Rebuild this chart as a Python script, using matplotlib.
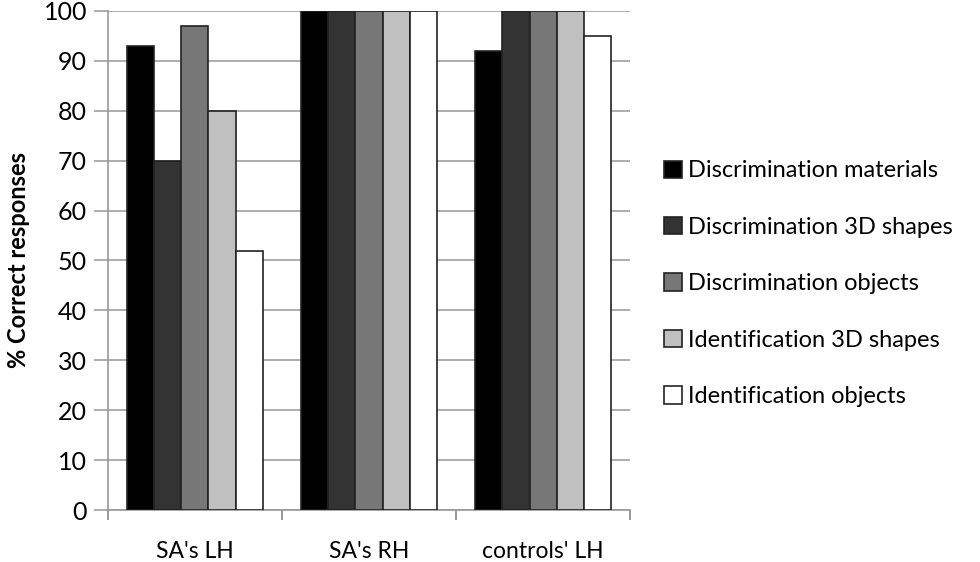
import matplotlib
matplotlib.use('Agg')

import numpy as np
import matplotlib.pyplot as plt
from matplotlib.patches import Patch

plt.rcParams['font.family'] = ['Lato', 'DejaVu Sans']

# Data
groups = ["SA's LH", "SA's RH", "controls' LH"]
series = ['Discrimination materials', 'Discrimination 3D shapes',
          'Discrimination objects', 'Identification 3D shapes',
          'Identification objects']
disc_materials = [93, 100, 92]
disc_shapes = [70, 100, 100]
disc_objects = [97, 100, 100]
ident_shapes = [80, 100, 100]
ident_objects = [52, 100, 95]
values = [disc_materials, disc_shapes, disc_objects, ident_shapes, ident_objects]
colors = ['#000000', '#333333', '#777777', '#c0c0c0', '#ffffff']

fig = plt.figure(figsize=(9.8, 5.62), dpi=100)
ax = fig.add_axes([0.110, 0.0925, 0.533, 0.888])

x = np.arange(len(groups))
bw = 0.156
for i, (vals, c) in enumerate(zip(values, colors)):
    ax.bar(x + (i - 2) * bw, vals, bw, color=c, edgecolor='#222222',
           linewidth=1.2, label=series[i], zorder=3)

ax.set_xlim(-0.5, 2.5)
ax.set_ylim(0, 100)
ax.set_yticks(range(0, 101, 10))
ax.yaxis.grid(True, color='#a0a0a0', linewidth=1.2, zorder=0)
ax.set_xticks([-0.5, 0.5, 1.5, 2.5], minor=False)
ax.set_xticklabels([])
ax.set_xticks(x, minor=True)
ax.set_xticklabels(groups, minor=True, fontsize=16.5)
ax.tick_params(axis='x', which='minor', length=0, pad=22)
ax.tick_params(axis='x', which='major', length=7, color='#888888', width=1.2)
ax.tick_params(axis='y', length=10, color='#a0a0a0', width=1.2, labelsize=18, pad=5)

for s in ['top', 'right']:
    ax.spines[s].set_visible(False)
for s in ['left', 'bottom']:
    ax.spines[s].set_color('#999999')
    ax.spines[s].set_linewidth(1.2)

ax.set_ylabel('% Correct responses', fontsize=17, fontweight='bold', labelpad=10)

handles = [Patch(facecolor=c, edgecolor='#222222', linewidth=1.2) for c in colors]
fig.legend(handles, series, loc='center left', bbox_to_anchor=(0.668, 0.495),
           frameon=False, fontsize=17, handlelength=0.75, handleheight=0.75,
           handletextpad=0.25, labelspacing=1.5, borderaxespad=0)

plt.savefig('out.png', dpi=100)
